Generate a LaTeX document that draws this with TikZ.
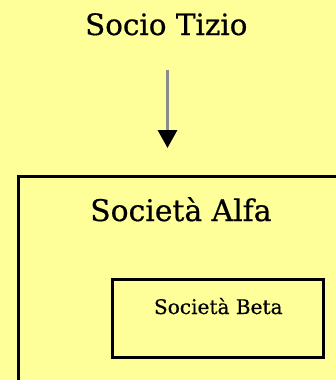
\documentclass[tikz,border=0pt]{standalone}
\usepackage{fontspec}
\setmainfont{DejaVu Serif}
\newfontface\labelface{DejaVu Serif}[FakeBold=0.6]
\usetikzlibrary{arrows.meta}
\definecolor{paper}{HTML}{FFFF99}
\definecolor{linkgray}{RGB}{140,140,140}
\begin{document}
\begin{tikzpicture}[x=1pt,y=-1pt,
  txt/.style={inner sep=0pt, outer sep=0pt, anchor=base, text=black},
  frame/.style={draw=black, line width=2.8pt, inner sep=0pt, outer sep=0pt, anchor=north west},
  link/.style={draw=linkgray, line width=3.2pt,
    -{Triangle[length=18pt,width=19pt,fill=black,color=black]}}]
  % canvas
  \fill[paper] (0,0) rectangle (336,380);
  \useasboundingbox (0,0) rectangle (336,380);
  \clip (0,0) rectangle (336,380);
  % shareholder
  \node[txt, font=\labelface\fontsize{29.4}{35}\selectfont] (tizio) at (166.3,35) {Socio Tizio};
  % company frames
  \node[frame, minimum width=340pt, minimum height=240pt] (alfa) at (18.7,176.7) {};
  \node[txt, font=\labelface\fontsize{29.8}{36}\selectfont] (alfalabel) at (180.9,221) {Società Alfa};
  \node[frame, minimum width=210.7pt, minimum height=78pt] (beta) at (112.8,279.8) {};
  \node[txt, font=\labelface\fontsize{20.1}{24}\selectfont] (betalabel) at (218.3,314) {Società Beta};
  % ownership arrow
  \draw[link, shorten <=35pt, shorten >=28.7pt]
    ([xshift=1.2pt]tizio.south) -- ([xshift=1.2pt]tizio.south |- alfa.north);
\end{tikzpicture}
\end{document}
